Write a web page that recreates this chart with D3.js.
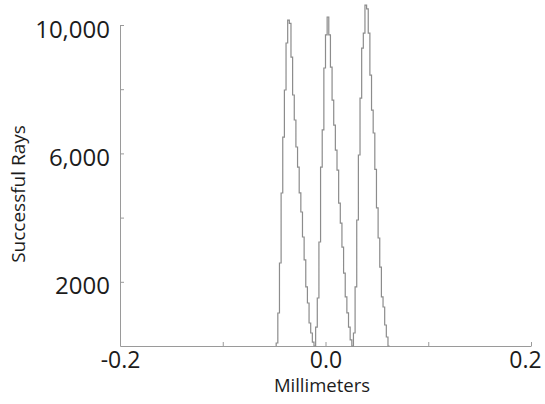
<!DOCTYPE html>
<html>
<head>
<meta charset="utf-8">
<script src="https://cdn.jsdelivr.net/npm/d3@7"></script>
<style>
  body { margin: 0; background: #fff; }
  svg { display: block; }
</style>
</head>
<body>
<svg id="chart" width="545" height="404"></svg>
<script>
// histogram bins: start of first bin (mm), bin width (mm), counts per bin
const binStart = -0.048;
const binWidth = 0.0016;
const counts = [
  93, 1028, 2586, 4767, 6510, 7975, 9440, 10150, 10050, 9000, 7820, 7040,
  6200, 5575, 4770, 4175, 3395, 2680, 1840, 1340, 716, 405, 120, 0,
  590, 1495, 3240, 5575, 6730, 8660, 9690, 10250, 9690, 8690, 7660, 6880,
  6100, 5480, 4450, 3830, 3080, 2270, 1530, 1030, 590, 190, 0,
  405, 1840, 3925, 5950, 7725, 9280, 9750, 10620, 10500, 9750, 8440, 7350,
  6635, 5500, 4300, 3365, 2460, 1530, 1215, 655, 280, 0
];

const xTicks = [-0.2, -0.1, 0, 0.1, 0.2];
const xTickLabels = ["-0.2", "", "0.0", "", "0.2"];
const yTicks = [2000, 4000, 6000, 8000, 10000];
const yTickLabels = ["2000", "", "6,000", "", "10,000"];

const svg = d3.select("#chart");

const x = d3.scaleLinear().domain([-0.2, 0.2]).range([120, 531]);
const y = d3.scaleLinear().domain([0, 10000]).range([346, 25]);

const axisColor = "#9a9a9a";
const textColor = "#1c1c1c";

// x axis
const gx = svg.append("g")
  .attr("transform", "translate(0,346)")
  .call(d3.axisBottom(x)
    .tickValues(xTicks)
    .tickSize(-4)
    .tickSizeOuter(0)
    .tickFormat((d, i) => xTickLabels[i]));
gx.attr("font-family", "Open Sans").attr("font-size", 23);
gx.select(".domain").attr("stroke", axisColor);
gx.selectAll(".tick line").attr("stroke", axisColor);
gx.selectAll(".tick text")
  .attr("fill", textColor)
  .attr("y", 22)
  .attr("dy", 0)
  .attr("x", d => d === 0.2 ? -6 : 0);

// y axis
const gy = svg.append("g")
  .attr("transform", "translate(120,0)")
  .call(d3.axisLeft(y)
    .tickValues(yTicks)
    .tickSize(-4)
    .tickSizeOuter(0)
    .tickPadding(10)
    .tickFormat((d, i) => yTickLabels[i]));
gy.attr("font-family", "Open Sans").attr("font-size", 24);
gy.select(".domain").attr("stroke", axisColor);
gy.selectAll(".tick line").attr("stroke", axisColor);
gy.selectAll(".tick text")
  .attr("fill", textColor)
  .attr("dy", "0.5em");

// histogram outline
const pts = counts.map((c, i) => [binStart + i * binWidth, c]);
pts.unshift([binStart, 0]);
pts.push([binStart + counts.length * binWidth, 0]);

const line = d3.line()
  .x(d => x(d[0]))
  .y(d => y(d[1]))
  .curve(d3.curveStepAfter);

svg.append("path")
  .datum(pts)
  .attr("fill", "none")
  .attr("stroke", "#8c8c8c")
  .attr("stroke-width", 1.2)
  .attr("d", line);

// axis titles
svg.append("text")
  .attr("x", 322)
  .attr("y", 392)
  .attr("text-anchor", "middle")
  .attr("font-family", "Open Sans")
  .attr("font-size", 18.5)
  .attr("fill", textColor)
  .text("Millimeters");

svg.append("text")
  .attr("transform", "translate(25,194) rotate(-90)")
  .attr("text-anchor", "middle")
  .attr("font-family", "Open Sans")
  .attr("font-size", 19)
  .attr("fill", textColor)
  .text("Successful Rays");
</script>
</body>
</html>
